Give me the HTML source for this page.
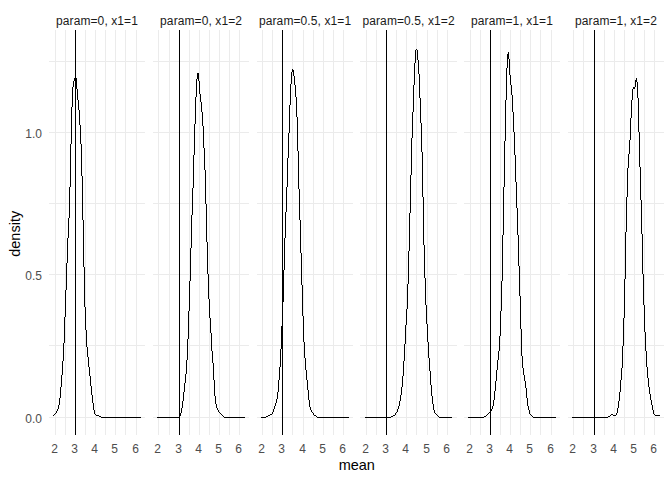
<!DOCTYPE html>
<html><head><meta charset="utf-8"><title>density</title>
<style>
html,body{margin:0;padding:0;background:#fff;}
svg{display:block;}
text{font-family:"Liberation Sans",Arial,sans-serif;}
.g{stroke:#ebebeb;stroke-width:1;fill:none;shape-rendering:crispEdges;}
.k{stroke:#000;stroke-width:1;fill:none;shape-rendering:crispEdges;}
.d{fill:#000;stroke:none;shape-rendering:crispEdges;}
.s{font-size:12px;fill:#1a1a1a;text-anchor:middle;letter-spacing:0.1px;}
.t{font-size:12px;fill:#4d4d4d;}
.a{font-size:14.5px;fill:#000;text-anchor:middle;}
</style></head><body>
<svg width="672" height="480" viewBox="0 0 672 480">
<rect width="672" height="480" fill="#fff"/>
<g class="g"><path d="M49 417.5H145"/><path d="M49 345.5H145"/><path d="M49 274.5H145"/><path d="M49 203.5H145"/><path d="M49 132.5H145"/><path d="M49 61.5H145"/><path d="M55.5 30V435"/><path d="M65.5 30V435"/><path d="M85.5 30V435"/><path d="M95.5 30V435"/><path d="M105.5 30V435"/><path d="M115.5 30V435"/><path d="M125.5 30V435"/><path d="M136.5 30V435"/></g>
<g class="g"><path d="M153 417.5H249"/><path d="M153 345.5H249"/><path d="M153 274.5H249"/><path d="M153 203.5H249"/><path d="M153 132.5H249"/><path d="M153 61.5H249"/><path d="M158.5 30V435"/><path d="M169.5 30V435"/><path d="M189.5 30V435"/><path d="M199.5 30V435"/><path d="M209.5 30V435"/><path d="M219.5 30V435"/><path d="M229.5 30V435"/><path d="M239.5 30V435"/></g>
<g class="g"><path d="M257 417.5H353"/><path d="M257 345.5H353"/><path d="M257 274.5H353"/><path d="M257 203.5H353"/><path d="M257 132.5H353"/><path d="M257 61.5H353"/><path d="M262.5 30V435"/><path d="M272.5 30V435"/><path d="M292.5 30V435"/><path d="M303.5 30V435"/><path d="M313.5 30V435"/><path d="M323.5 30V435"/><path d="M333.5 30V435"/><path d="M343.5 30V435"/></g>
<g class="g"><path d="M360 417.5H457"/><path d="M360 345.5H457"/><path d="M360 274.5H457"/><path d="M360 203.5H457"/><path d="M360 132.5H457"/><path d="M360 61.5H457"/><path d="M366.5 30V435"/><path d="M376.5 30V435"/><path d="M396.5 30V435"/><path d="M406.5 30V435"/><path d="M416.5 30V435"/><path d="M427.5 30V435"/><path d="M437.5 30V435"/><path d="M447.5 30V435"/></g>
<g class="g"><path d="M464 417.5H560"/><path d="M464 345.5H560"/><path d="M464 274.5H560"/><path d="M464 203.5H560"/><path d="M464 132.5H560"/><path d="M464 61.5H560"/><path d="M470.5 30V435"/><path d="M480.5 30V435"/><path d="M500.5 30V435"/><path d="M510.5 30V435"/><path d="M520.5 30V435"/><path d="M530.5 30V435"/><path d="M540.5 30V435"/><path d="M551.5 30V435"/></g>
<g class="g"><path d="M568 417.5H664"/><path d="M568 345.5H664"/><path d="M568 274.5H664"/><path d="M568 203.5H664"/><path d="M568 132.5H664"/><path d="M568 61.5H664"/><path d="M573.5 30V435"/><path d="M583.5 30V435"/><path d="M604.5 30V435"/><path d="M614.5 30V435"/><path d="M624.5 30V435"/><path d="M634.5 30V435"/><path d="M644.5 30V435"/><path d="M654.5 30V435"/></g>
<path class="k" d="M75.5 30V435"/>
<path class="d" d="M101 417h40v1h-40zM53 415h1v1h-1zM54 414h1v1h-1zM55 413h1v1h-1zM56 411h1v2h-1zM57 409h1v2h-1zM58 405h1v4h-1zM59 398h1v7h-1zM60 387h1v11h-1zM61 375h1v12h-1zM62 361h1v14h-1zM63 343h1v18h-1zM64 317h1v26h-1zM65 290h1v27h-1zM66 263h1v27h-1zM67 238h1v25h-1zM68 218h1v20h-1zM69 187h1v31h-1zM70 144h1v43h-1zM71 107h1v37h-1zM72 87h1v20h-1zM73 81h1v6h-1zM74 78h1v3h-1zM75 77h1v1h-1zM76 78h1v11h-1zM77 89h1v11h-1zM78 100h1v10h-1zM79 110h1v15h-1zM80 125h1v19h-1zM81 144h1v32h-1zM82 176h1v44h-1zM83 220h1v47h-1zM84 267h1v40h-1zM85 307h1v23h-1zM86 330h1v17h-1zM87 347h1v10h-1zM88 357h1v10h-1zM89 367h1v9h-1zM90 376h1v10h-1zM91 386h1v9h-1zM92 395h1v8h-1zM93 403h1v7h-1zM94 410h1v4h-1zM95 414h1v1h-1zM96 415h1v1h-1zM97 415h1v1h-1zM98 415h1v1h-1zM99 416h1v1h-1zM100 416h1v1h-1z"/>
<path class="k" d="M179.5 30V435"/>
<path class="d" d="M157 417h22v1h-22zM224 417h21v1h-21zM179 416h1v1h-1zM180 413h1v3h-1zM181 408h1v5h-1zM182 401h1v7h-1zM183 392h1v9h-1zM184 383h1v9h-1zM185 374h1v9h-1zM186 360h1v14h-1zM187 339h1v21h-1zM188 311h1v28h-1zM189 281h1v30h-1zM190 248h1v33h-1zM191 215h1v33h-1zM192 188h1v27h-1zM193 155h1v33h-1zM194 124h1v31h-1zM195 97h1v27h-1zM196 79h1v18h-1zM197 73h1v6h-1zM198 73h1v8h-1zM199 81h1v13h-1zM200 94h1v8h-1zM201 102h1v10h-1zM202 112h1v14h-1zM203 126h1v22h-1zM204 148h1v22h-1zM205 170h1v34h-1zM206 204h1v38h-1zM207 242h1v32h-1zM208 274h1v25h-1zM209 299h1v19h-1zM210 318h1v15h-1zM211 333h1v18h-1zM212 351h1v12h-1zM213 363h1v17h-1zM214 380h1v16h-1zM215 396h1v8h-1zM216 404h1v4h-1zM217 408h1v2h-1zM218 410h1v2h-1zM219 412h1v1h-1zM220 413h1v1h-1zM221 414h1v1h-1zM222 415h1v1h-1zM223 416h1v1h-1z"/>
<path class="k" d="M282.5 30V435"/>
<path class="d" d="M261 417h5v1h-5zM317 417h32v1h-32zM266 416h1v1h-1zM267 416h1v1h-1zM268 415h1v1h-1zM269 415h1v1h-1zM270 414h1v1h-1zM271 414h1v1h-1zM272 412h1v2h-1zM273 409h1v3h-1zM274 406h1v3h-1zM275 403h1v3h-1zM276 399h1v4h-1zM277 392h1v7h-1zM278 380h1v12h-1zM279 367h1v13h-1zM280 349h1v18h-1zM281 326h1v23h-1zM282 302h1v24h-1zM283 270h1v32h-1zM284 238h1v32h-1zM285 212h1v26h-1zM286 187h1v25h-1zM287 158h1v29h-1zM288 133h1v25h-1zM289 105h1v28h-1zM290 84h1v21h-1zM291 72h1v12h-1zM292 69h1v3h-1zM293 70h1v6h-1zM294 76h1v9h-1zM295 85h1v12h-1zM296 97h1v20h-1zM297 117h1v34h-1zM298 151h1v38h-1zM299 189h1v31h-1zM300 220h1v33h-1zM301 253h1v32h-1zM302 285h1v31h-1zM303 316h1v26h-1zM304 342h1v16h-1zM305 358h1v12h-1zM306 370h1v10h-1zM307 380h1v10h-1zM308 390h1v10h-1zM309 400h1v7h-1zM310 407h1v3h-1zM311 410h1v2h-1zM312 412h1v1h-1zM313 413h1v2h-1zM314 415h1v1h-1zM315 415h1v1h-1zM316 416h1v1h-1z"/>
<path class="k" d="M386.5 30V435"/>
<path class="d" d="M365 417h26v1h-26zM439 417h13v1h-13zM391 416h1v1h-1zM392 416h1v1h-1zM393 415h1v1h-1zM394 415h1v1h-1zM395 413h1v2h-1zM396 412h1v1h-1zM397 409h1v3h-1zM398 406h1v3h-1zM399 401h1v5h-1zM400 395h1v6h-1zM401 387h1v8h-1zM402 376h1v11h-1zM403 361h1v15h-1zM404 344h1v17h-1zM405 325h1v19h-1zM406 309h1v16h-1zM407 284h1v25h-1zM408 251h1v33h-1zM409 213h1v38h-1zM410 175h1v38h-1zM411 138h1v37h-1zM412 112h1v26h-1zM413 85h1v27h-1zM414 63h1v22h-1zM415 50h1v13h-1zM416 49h1v1h-1zM417 50h1v10h-1zM418 60h1v14h-1zM419 74h1v24h-1zM420 98h1v25h-1zM421 123h1v29h-1zM422 152h1v45h-1zM423 197h1v48h-1zM424 245h1v33h-1zM425 278h1v27h-1zM426 305h1v19h-1zM427 324h1v18h-1zM428 342h1v16h-1zM429 358h1v13h-1zM430 371h1v14h-1zM431 385h1v11h-1zM432 396h1v8h-1zM433 404h1v6h-1zM434 410h1v3h-1zM435 413h1v1h-1zM436 414h1v1h-1zM437 415h1v1h-1zM438 416h1v1h-1z"/>
<path class="k" d="M490.5 30V435"/>
<path class="d" d="M468 417h16v1h-16zM533 417h23v1h-23zM484 416h1v1h-1zM485 416h1v1h-1zM486 415h1v1h-1zM487 414h1v1h-1zM488 413h1v1h-1zM489 412h1v1h-1zM490 411h1v1h-1zM491 409h1v2h-1zM492 406h1v3h-1zM493 400h1v6h-1zM494 391h1v9h-1zM495 381h1v10h-1zM496 370h1v11h-1zM497 360h1v10h-1zM498 351h1v9h-1zM499 336h1v15h-1zM500 311h1v25h-1zM501 281h1v30h-1zM502 235h1v46h-1zM503 187h1v48h-1zM504 141h1v46h-1zM505 100h1v41h-1zM506 68h1v32h-1zM507 54h1v14h-1zM508 52h1v7h-1zM509 59h1v16h-1zM510 75h1v10h-1zM511 85h1v10h-1zM512 95h1v17h-1zM513 112h1v20h-1zM514 132h1v23h-1zM515 155h1v27h-1zM516 182h1v26h-1zM517 208h1v27h-1zM518 235h1v31h-1zM519 266h1v30h-1zM520 296h1v33h-1zM521 329h1v27h-1zM522 356h1v12h-1zM523 368h1v7h-1zM524 375h1v6h-1zM525 381h1v7h-1zM526 388h1v10h-1zM527 398h1v8h-1zM528 406h1v4h-1zM529 410h1v4h-1zM530 414h1v1h-1zM531 415h1v1h-1zM532 416h1v1h-1z"/>
<path class="k" d="M594.5 30V435"/>
<path class="d" d="M572 417h36v1h-36zM655 415h5v1h-5zM608 416h1v1h-1zM609 416h1v1h-1zM610 415h1v1h-1zM611 414h1v1h-1zM612 414h1v1h-1zM613 415h1v1h-1zM614 415h1v1h-1zM615 415h1v1h-1zM616 413h1v2h-1zM617 408h1v5h-1zM618 401h1v7h-1zM619 392h1v9h-1zM620 380h1v12h-1zM621 368h1v12h-1zM622 346h1v22h-1zM623 318h1v28h-1zM624 279h1v39h-1zM625 232h1v47h-1zM626 197h1v35h-1zM627 168h1v29h-1zM628 154h1v14h-1zM629 140h1v14h-1zM630 118h1v22h-1zM631 100h1v18h-1zM632 89h1v11h-1zM633 87h1v2h-1zM634 87h1v2h-1zM635 80h1v7h-1zM636 78h1v4h-1zM637 82h1v16h-1zM638 98h1v34h-1zM639 132h1v35h-1zM640 167h1v33h-1zM641 200h1v34h-1zM642 234h1v40h-1zM643 274h1v31h-1zM644 305h1v27h-1zM645 332h1v19h-1zM646 351h1v16h-1zM647 367h1v11h-1zM648 378h1v9h-1zM649 387h1v7h-1zM650 394h1v6h-1zM651 400h1v5h-1zM652 405h1v5h-1zM653 410h1v4h-1zM654 414h1v1h-1z"/>
<text class="s" x="97.0" y="25">param=0, x1=1</text>
<text class="s" x="201.1" y="25">param=0, x1=2</text>
<text class="s" x="305.1" y="25">param=0.5, x1=1</text>
<text class="s" x="408.6" y="25">param=0.5, x1=2</text>
<text class="s" x="512.0" y="25">param=1, x1=1</text>
<text class="s" x="616.0" y="25">param=1, x1=2</text>
<text class="t" text-anchor="middle" x="54.5" y="453">2</text><text class="t" text-anchor="middle" x="74.5" y="453">3</text><text class="t" text-anchor="middle" x="94.5" y="453">4</text><text class="t" text-anchor="middle" x="114.5" y="453">5</text><text class="t" text-anchor="middle" x="135.5" y="453">6</text>
<text class="t" text-anchor="middle" x="157.5" y="453">2</text><text class="t" text-anchor="middle" x="178.5" y="453">3</text><text class="t" text-anchor="middle" x="198.5" y="453">4</text><text class="t" text-anchor="middle" x="218.5" y="453">5</text><text class="t" text-anchor="middle" x="238.5" y="453">6</text>
<text class="t" text-anchor="middle" x="261.5" y="453">2</text><text class="t" text-anchor="middle" x="281.5" y="453">3</text><text class="t" text-anchor="middle" x="302.5" y="453">4</text><text class="t" text-anchor="middle" x="322.5" y="453">5</text><text class="t" text-anchor="middle" x="342.5" y="453">6</text>
<text class="t" text-anchor="middle" x="365.5" y="453">2</text><text class="t" text-anchor="middle" x="385.5" y="453">3</text><text class="t" text-anchor="middle" x="405.5" y="453">4</text><text class="t" text-anchor="middle" x="426.5" y="453">5</text><text class="t" text-anchor="middle" x="446.5" y="453">6</text>
<text class="t" text-anchor="middle" x="469.5" y="453">2</text><text class="t" text-anchor="middle" x="489.5" y="453">3</text><text class="t" text-anchor="middle" x="509.5" y="453">4</text><text class="t" text-anchor="middle" x="529.5" y="453">5</text><text class="t" text-anchor="middle" x="550.5" y="453">6</text>
<text class="t" text-anchor="middle" x="572.5" y="453">2</text><text class="t" text-anchor="middle" x="593.5" y="453">3</text><text class="t" text-anchor="middle" x="613.5" y="453">4</text><text class="t" text-anchor="middle" x="633.5" y="453">5</text><text class="t" text-anchor="middle" x="653.5" y="453">6</text>
<text class="t" text-anchor="end" x="41.9" y="423.1">0.0</text>
<text class="t" text-anchor="end" x="41.9" y="280.1">0.5</text>
<text class="t" text-anchor="end" x="41.9" y="138.1">1.0</text>
<text class="a" x="356.8" y="470">mean</text>
<text class="a" transform="translate(20,233.8) rotate(-90)">density</text>
</svg>
</body></html>
